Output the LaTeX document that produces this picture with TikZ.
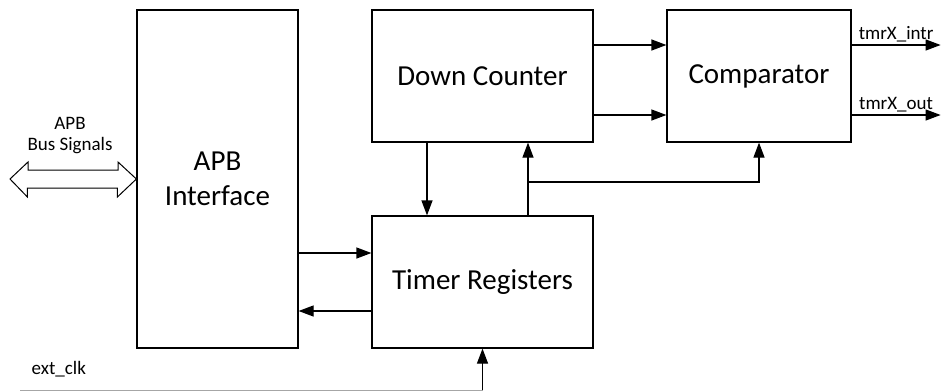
\documentclass[tikz,border=0pt]{standalone}
\usepackage{fontspec}
\setmainfont{Carlito}
\usetikzlibrary{arrows.meta,positioning,calc}

\begin{document}
\begin{tikzpicture}[x=1pt,y=-1pt,line width=1.2pt,
  blk/.style={rectangle, draw, inner sep=0pt, align=center, font=\fontsize{29}{35}\selectfont},
  lbl/.style={inner sep=2pt, align=center, font=\fontsize{19}{21}\selectfont},
  >={Triangle[length=15pt,width=11pt]}]
\useasboundingbox (0,0) rectangle (941,391);

\node[blk, minimum width=161pt, minimum height=338pt] (apb) at (217.5,179) {APB\\Interface};
\node[blk, minimum width=221pt, minimum height=132pt] (dc) at (482.5,76) {Down Counter};
\node[blk, minimum width=184pt, minimum height=132pt] (cmp) at (759,76) {Comparator};
\node[blk, minimum width=221pt, minimum height=132pt] (treg) at (482.5,282) {Timer Registers};

% bus port on the left
\coordinate (bus) at (10,179);
\draw[line width=1pt, fill=white] (bus) -- ++(18,-17) -- ++(0,8) -- ++(90,0) -- ++(0,-8)
  -- (apb.west) -- ++(-19,18) -- ++(0,-9) -- ++(-90,0) -- ++(0,9) -- cycle;
\node[lbl] (busl) at (70,136) {APB\\Bus Signals};

\draw[->] ([yshift=31pt]dc.east) -- ([yshift=31pt]cmp.west);
\draw[->] ([yshift=-39pt]dc.east) -- ([yshift=-39pt]cmp.west);

\draw[->] ([yshift=31pt]cmp.east) -- ++(89,0) coordinate (intr) node[lbl, midway, above] {tmrX\_intr};
\draw[->] ([yshift=-39pt]cmp.east) -- ++(89,0) coordinate (out) node[lbl, midway, above] {tmrX\_out};

\draw[->] ([xshift=-55.5pt]dc.south) -- ([xshift=-55.5pt]treg.north);
\draw[->] ([xshift=45.5pt]treg.north) -- ([xshift=45.5pt]dc.south) coordinate[pos=0.46] (tap);
\draw[->] (tap) -| (cmp.south);

\coordinate (tin) at ([yshift=29pt]treg.west);
\coordinate (tout) at ([yshift=-29pt]treg.west);
\draw[->] (apb.east |- tin) -- (tin);
\draw[->] (tout) -- (apb.east |- tout);

\coordinate (clk) at (20,390);
\draw[gray!70, line width=1pt] (clk) -- (clk -| treg.south) coordinate (clkup);
\draw[->] (clkup) -- (treg.south);
\node[lbl, above right=10pt and 9pt of clk] (clkl) {ext\_clk};
\end{tikzpicture}
\end{document}
